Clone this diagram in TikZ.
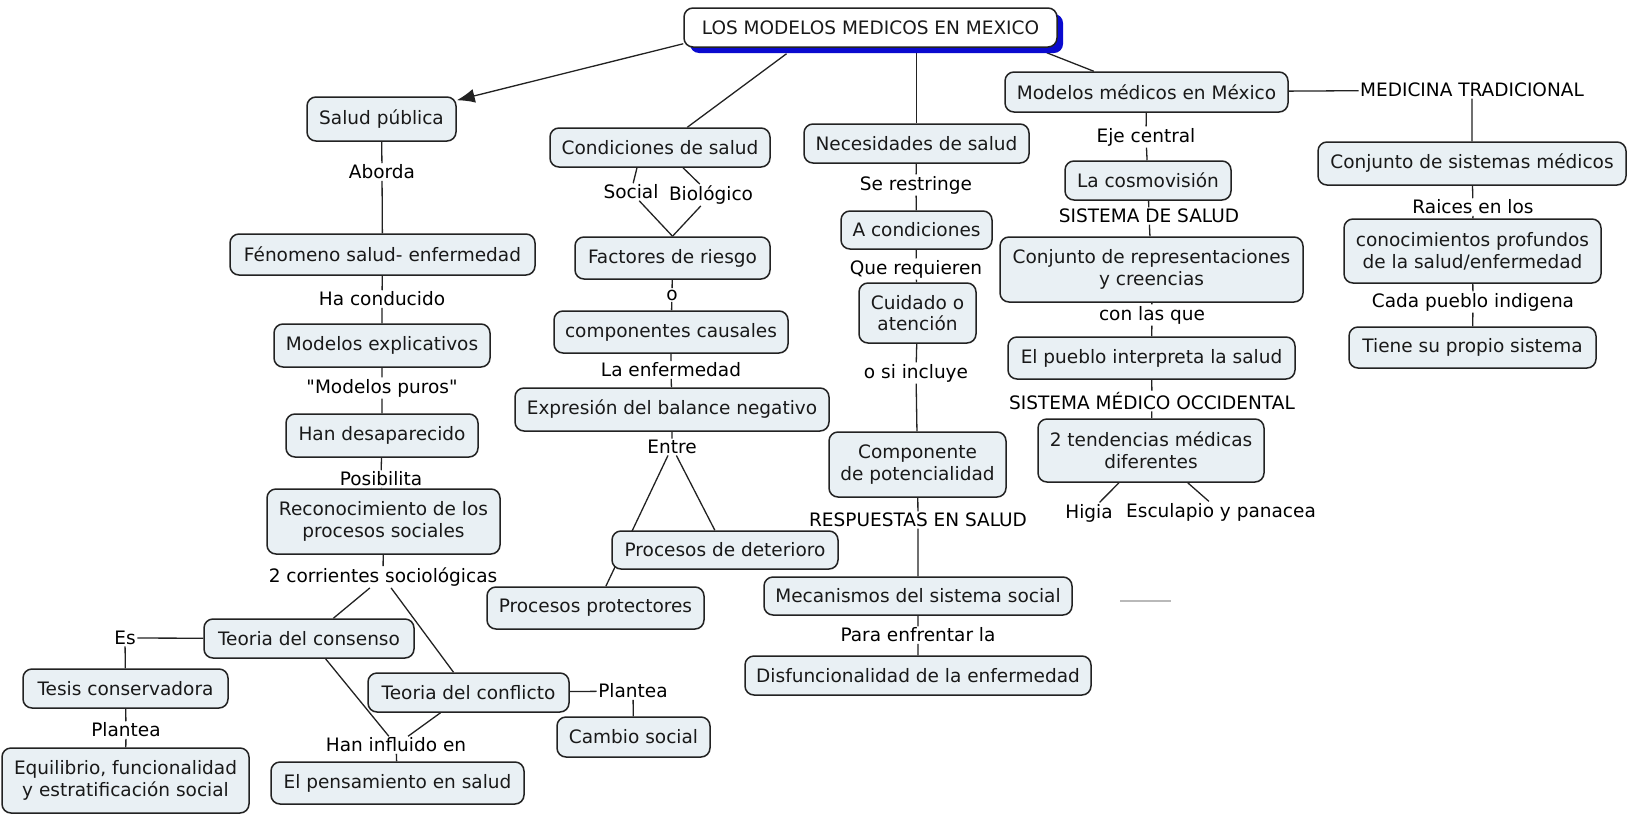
\documentclass[tikz,border=0pt]{standalone}
\usepackage{fontspec}
\setmainfont{DejaVu Sans}[Ligatures=TeXOff]
\usetikzlibrary{arrows.meta,calc,backgrounds,shadows}
\definecolor{boxfill}{HTML}{E9F0F4}
\definecolor{shadowblue}{HTML}{0A0ACF}
\definecolor{edgec}{HTML}{222222}
\newcommand{\mapfont}{\fontsize{9.25}{10.9}\selectfont}
\tikzset{
  cbox/.style={draw=edgec, line width=0.75pt, rounded corners=4.5pt, fill=boxfill,
    align=center, inner sep=0pt, text=black!90, font=\mapfont},
  topbox/.style={cbox, fill=white, drop shadow={shadow xshift=3pt, shadow yshift=-3pt,
    fill=shadowblue, opacity=1}},
  lab/.style={inner sep=0.6pt, font=\mapfont, text=black, align=center},
  link/.style={draw=edgec, line width=0.65pt},
}
\begin{document}
\begin{tikzpicture}[x=0.5pt,y=-0.5pt]
\useasboundingbox (0,0) rectangle (1628,814);
% ---------- nodes ----------
\node[topbox, minimum width=186.5pt, minimum height=19.5pt] (top) at (870.5,27.5) {LOS MODELOS MEDICOS EN MEXICO};
% left column
\node[cbox, minimum width=74.5pt, minimum height=22pt] (salud) at (381.5,119) {Salud pública};
\node[lab] (aborda) at (382,172) {Aborda};
\node[cbox, minimum width=152.5pt, minimum height=20.5pt] (fenomeno) at (382.5,254.5) {Fénomeno salud- enfermedad};
\node[lab] (hacond) at (382,299) {Ha conducido};
\node[cbox, minimum width=108pt, minimum height=21.5pt] (modexp) at (382,345.5) {Modelos explicativos};
\node[lab] (puros) at (382,388) {"Modelos puros"};
\node[cbox, minimum width=96pt, minimum height=21.5pt] (handes) at (382,435.5) {Han desaparecido};
\node[lab] (posib) at (381,479) {Posibilita};
\node[cbox, minimum width=116.5pt, minimum height=32.5pt] (recon) at (383.5,521.5) {Reconocimiento de los\\procesos sociales};
\node[lab] (corr) at (383,577) {2 corrientes sociológicas};
\node[cbox, minimum width=105pt, minimum height=19.5pt] (consenso) at (309,638.5) {Teoria del consenso};
\node[lab] (es) at (125,638) {Es};
\node[cbox, minimum width=102.5pt, minimum height=19.5pt] (tesis) at (125.5,688.5) {Tesis conservadora};
\node[lab] (plantL) at (126,730) {Plantea};
\node[cbox, minimum width=123.5pt, minimum height=32.5pt] (equil) at (125.5,780.5) {Equilibrio, funcionalidad\\y estratificación social};
\node[cbox, minimum width=100.5pt, minimum height=19.5pt] (conflicto) at (468.5,692.5) {Teoria del conflicto};
\node[lab] (influido) at (396,745) {Han influido en};
\node[cbox, minimum width=126.5pt, minimum height=21pt] (pensam) at (397.5,783) {El pensamiento en salud};
\node[lab] (plantR) at (633,691) {Plantea};
\node[cbox, minimum width=76.5pt, minimum height=20pt] (cambio) at (633.5,737) {Cambio social};
% second column
\node[cbox, minimum width=110pt, minimum height=19.5pt] (condic) at (660,147.5) {Condiciones de salud};
\node[lab] (social) at (631,192) {Social};
\node[lab] (biol) at (711,195) {Biológico};
\node[cbox, minimum width=97.5pt, minimum height=21pt] (factores) at (672.5,258) {Factores de riesgo};
\node[lab] (o) at (672,295) {o};
\node[cbox, minimum width=117pt, minimum height=21pt] (compcaus) at (671,332) {componentes causales};
\node[lab] (laenf) at (671,370) {La enfermedad};
\node[cbox, minimum width=157pt, minimum height=21.5pt] (expresion) at (672,409.5) {Expresión del balance negativo};
\node[lab] (entre) at (672,447) {Entre};
\node[cbox, minimum width=113pt, minimum height=19pt] (deterioro) at (725,550) {Procesos de deterioro};
\node[cbox, minimum width=108.5pt, minimum height=21pt] (protect) at (595.5,608) {Procesos protectores};
% third column
\node[cbox, minimum width=112.5pt, minimum height=19.5pt] (necesid) at (916.5,143.5) {Necesidades de salud};
\node[lab] (restr) at (916,185) {Se restringe};
\node[cbox, minimum width=75.5pt, minimum height=19pt] (acond) at (916.5,230) {A condiciones};
\node[lab] (requieren) at (916,269) {Que requieren};
\node[cbox, minimum width=58.5pt, minimum height=30pt] (cuidado) at (917.5,313) {Cuidado o\\atención};
\node[lab] (incluye) at (916,373) {o si incluye};
\node[cbox, minimum width=88.5pt, minimum height=32.5pt] (componente) at (917.5,464.5) {Componente\\de potencialidad};
\node[lab] (respuestas) at (918,520) {RESPUESTAS EN SALUD};
\node[cbox, minimum width=154pt, minimum height=19pt] (mecan) at (918,596) {Mecanismos del sistema social};
\node[lab] (enfrentar) at (918,635) {Para enfrentar la};
\node[cbox, minimum width=173pt, minimum height=19.5pt] (disfunc) at (918,675.5) {Disfuncionalidad de la enfermedad};
% fourth column
\node[cbox, minimum width=141.5pt, minimum height=20pt] (modmed) at (1146.5,92) {Modelos médicos en México};
\node[lab] (eje) at (1146,137) {Eje central};
\node[cbox, minimum width=83pt, minimum height=19.5pt] (cosmo) at (1148,180.5) {La cosmovisión};
\node[lab] (sissalud) at (1149,216) {SISTEMA DE SALUD};
\node[cbox, minimum width=151.5pt, minimum height=32.5pt] (conjrep) at (1151.5,269.5) {Conjunto de representaciones\\y creencias};
\node[lab] (conlas) at (1152,315) {con las que};
\node[cbox, minimum width=143.5pt, minimum height=21pt] (pueblo) at (1151.5,358) {El pueblo interpreta la salud};
\node[lab] (occid) at (1152,401) {SISTEMA MÉDICO OCCIDENTAL};
\node[cbox, minimum width=113pt, minimum height=31.5pt] (tendenc) at (1151,450.5) {2 tendencias médicas\\diferentes};
\node[lab] (higia) at (1089,513) {Higia};
\node[lab] (escul) at (1221,512) {Esculapio y panacea};
% fifth column
\node[lab] (medtrad) at (1472,90) {MEDICINA TRADICIONAL};
\node[cbox, minimum width=154pt, minimum height=21.5pt] (conjsis) at (1472,163.5) {Conjunto de sistemas médicos};
\node[lab] (raices) at (1473,207) {Raices en los};
\node[cbox, minimum width=128.5pt, minimum height=32pt] (conoc) at (1472.5,251) {conocimientos profundos\\de la salud/enfermedad};
\node[lab] (cada) at (1473,302) {Cada pueblo indigena};
\node[cbox, minimum width=123.5pt, minimum height=20.5pt] (tiene) at (1472.5,347.5) {Tiene su propio sistema};
\coordinate (stray1) at (1120,601);
\coordinate (stray2) at (1171,601);
% ---------- connectors ----------
\begin{pgfonlayer}{background}
\draw[link, -{Latex[length=9pt,width=7pt]}] ($(top.south west)+(0,-4)$) -- (salud);
\draw[link] ($(top.south)+(-84,6)$) -- (condic);
\draw[link] ($(top.south)+(46,0)$) -- (necesid.north);
\draw[link] ($(top.south east)+(-11,5)$) -- (modmed);
% left
\draw[link] (salud) -- (aborda) -- (fenomeno) -- (hacond) -- (modexp) -- (puros) -- (handes) -- (posib) -- (recon) -- (corr);
\draw[link] (corr) -- (consenso);
\draw[link] (corr) -- (conflicto);
\draw[link] (consenso) -- (es) -- (tesis) -- (plantL) -- (equil);
\draw[link] (consenso) -- (influido);
\draw[link] (conflicto) -- (influido);
\draw[link] (influido) -- (pensam);
\draw[link] (conflicto) -- (plantR) -- (cambio);
% second
\draw[link] ($(condic.south)+(-23,0)$) -- (social);
\draw[link] ($(condic.south)+(23,0)$) -- (biol);
\draw[link] (social) -- (factores.north);
\draw[link] (biol) -- (factores.north);
\draw[link] (factores) -- (o) -- (compcaus) -- (laenf) -- (expresion) -- (entre);
\draw[link] (entre) -- (deterioro);
\draw[link] (entre) -- (protect);
% third
\draw[link] (necesid) -- (restr) -- (acond) -- (requieren) -- (cuidado) -- (incluye) -- (componente) -- (respuestas) -- (mecan) -- (enfrentar) -- (disfunc);
% fourth
\draw[link] (modmed) -- (eje) -- (cosmo) -- (sissalud) -- (conjrep) -- (conlas) -- (pueblo) -- (occid) -- (tendenc);
\draw[link] (tendenc) -- (higia);
\draw[link] (tendenc) -- (escul);
% fifth
\draw[link] (modmed) -- (medtrad);
\draw[link] (medtrad) -- (conjsis) -- (raices) -- (conoc) -- (cada) -- (tiene);
\draw[gray!55, line width=0.6pt] (stray1) -- (stray2);
\end{pgfonlayer}
\end{tikzpicture}
\end{document}
